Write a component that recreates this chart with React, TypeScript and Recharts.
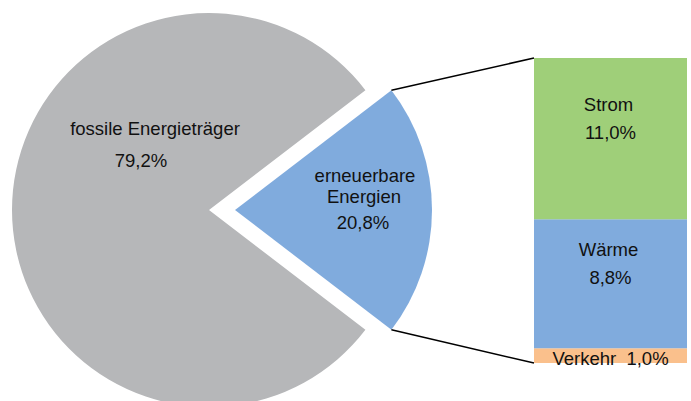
import { PieChart, Pie, Cell, BarChart, Bar, XAxis, YAxis } from "recharts";

// shares of final energy consumption (%)
const pieNames = ["fossile Energieträger", "erneuerbare Energien"];
const pieValues = [79.2, 20.8];
const pieColors = ["#B6B7B9", "#80ABDD"];

// breakdown of renewables (%), bottom to top
const barKeys = ["verkehr", "waerme", "strom"];
const barNames = ["Verkehr", "Wärme", "Strom"];
const barValues = [1.0, 8.8, 11.0];
const barColors = ["#FAC08C", "#80ABDD", "#9FCF79"];

const W = 691;
const H = 401;
const FONT = "'Liberation Sans', Arial, sans-serif";
const FS = 18.5;

// layout
const PIE_CY = 210;
const PIE_R = 197;
const GRAY_CX = 209;
const BLUE_CX = 235;
const BAR_LEFT = 534;
const BAR_TOP = 58;
const BAR_W = 153;
const BAR_H = 305;
const BAR_PAD = 24; // room below the bar for the Verkehr label

const fmt = (v: number) => v.toFixed(1).replace(".", ",") + "%";

const pieData = pieNames.map((name, i) => ({ name, value: pieValues[i] }));
const barRow: Record<string, number | string> = { name: "erneuerbar" };
barKeys.forEach((k, i) => (barRow[k] = barValues[i]));

const renTotal = barValues.reduce((a, b) => a + b, 0);
const halfAngle = ((pieValues[1] / 100) * 360) / 2;
const rotate = halfAngle; // gray slice starts at top corner of blue slice

function grayLabel(props: any) {
  if (props.index !== 0) return null;
  const { cx, cy } = props;
  return (
    <g fontFamily={FONT} fontSize={FS} fill="#111">
      <text x={cx - 54} y={cy - 75} textAnchor="middle">{pieNames[0]}</text>
      <text x={cx - 68} y={cy - 43} textAnchor="middle">{fmt(pieValues[0])}</text>
    </g>
  );
}

function blueLabel(props: any) {
  if (props.index !== 1) return null;
  const { cx, cy } = props;
  return (
    <g fontFamily={FONT} fontSize={FS} fill="#111">
      <text x={cx + 130} y={cy - 28} textAnchor="middle">erneuerbare</text>
      <text x={cx + 129} y={cy - 7} textAnchor="middle">Energien</text>
      <text x={cx + 128} y={cy + 19} textAnchor="middle">{fmt(pieValues[1])}</text>
    </g>
  );
}

function segLabel(i: number) {
  return (props: any) => {
    const { x, y, width, height } = props;
    const cx = Number(x) + Number(width) / 2;
    const mid = Number(y) + Number(height) / 2;
    if (i === 0) {
      return (
        <text x={cx} y={mid + 9} textAnchor="middle" fontFamily={FONT} fontSize={FS} fill="#111">
          {barNames[i] + "\u00A0 " + fmt(barValues[i])}
        </text>
      );
    }
    return (
      <g fontFamily={FONT} fontSize={FS} fill="#111">
        <text x={cx - 2} y={mid - 28} textAnchor="middle">{barNames[i]}</text>
        <text x={cx} y={mid} textAnchor="middle">{fmt(barValues[i])}</text>
      </g>
    );
  };
}

export default function App() {
  const rad = (halfAngle * Math.PI) / 180;
  const topCorner = { x: BLUE_CX + PIE_R * Math.cos(rad), y: PIE_CY - PIE_R * Math.sin(rad) };
  const botCorner = { x: BLUE_CX + PIE_R * Math.cos(rad), y: PIE_CY + PIE_R * Math.sin(rad) };

  return (
    <div style={{ position: "absolute", left: 0, top: 0, width: W, height: H, background: "#fff" }}>
      <PieChart width={W} height={H} margin={{ top: 0, right: 0, bottom: 0, left: 0 }}>
        <Pie
          data={pieData}
          dataKey="value"
          cx={GRAY_CX}
          cy={PIE_CY}
          outerRadius={PIE_R}
          startAngle={rotate}
          endAngle={rotate + 360}
          stroke="none"
          label={grayLabel}
          labelLine={false}
          isAnimationActive={false}
        >
          <Cell fill={pieColors[0]} />
          <Cell fill="none" />
        </Pie>
        <Pie
          data={pieData}
          dataKey="value"
          cx={BLUE_CX}
          cy={PIE_CY}
          outerRadius={PIE_R}
          startAngle={rotate}
          endAngle={rotate + 360}
          stroke="none"
          label={blueLabel}
          labelLine={false}
          isAnimationActive={false}
        >
          <Cell fill="none" />
          <Cell fill={pieColors[1]} />
        </Pie>
      </PieChart>

      <svg width={W} height={H} style={{ position: "absolute", left: 0, top: 0, pointerEvents: "none" }}>
        <line x1={topCorner.x} y1={topCorner.y} x2={BAR_LEFT} y2={BAR_TOP} stroke="#000" strokeWidth={1.5} />
        <line x1={botCorner.x} y1={botCorner.y} x2={BAR_LEFT} y2={BAR_TOP + BAR_H} stroke="#000" strokeWidth={1.5} />
      </svg>

      <div style={{ position: "absolute", left: BAR_LEFT, top: BAR_TOP }}>
        <BarChart
          width={BAR_W}
          height={BAR_H + BAR_PAD}
          data={[barRow]}
          margin={{ top: 0, right: 0, bottom: BAR_PAD, left: 0 }}
          barCategoryGap={0}
        >
          <XAxis dataKey="name" hide />
          <YAxis hide domain={[0, renTotal]} />
          {barKeys.map((k, i) => (
            <Bar
              key={k}
              dataKey={k}
              stackId="ee"
              fill={barColors[i]}
              label={segLabel(i)}
              isAnimationActive={false}
            />
          ))}
        </BarChart>
      </div>
    </div>
  );
}
